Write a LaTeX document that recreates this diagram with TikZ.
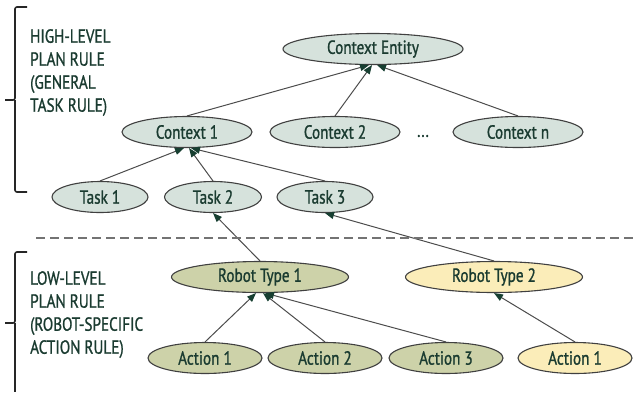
\documentclass[tikz,border=0pt]{standalone}
\usepackage{fontspec}
\setmainfont{PT Sans}[FakeStretch=0.8,FakeBold=1]
\usetikzlibrary{shapes.geometric,arrows.meta}
\definecolor{txtgreen}{HTML}{1A3B30}
\definecolor{tipgreen}{HTML}{173F31}
\definecolor{ctxfill}{HTML}{D6E2DC}
\definecolor{robfill}{HTML}{CDD2A9}
\definecolor{yelfill}{HTML}{FBEDB9}
\tikzset{
  ent/.style={ellipse,draw=black!75,line width=1.1pt,inner sep=0pt,
    minimum height=31pt,text=txtgreen,font=\fontsize{19}{19}\selectfont},
  ctx/.style={ent,fill=ctxfill},
  rob/.style={ent,fill=robfill},
  yel/.style={ent,fill=yelfill},
  link/.style={draw=black!70,line width=1pt,
    -{Triangle[length=9pt,width=7pt,fill=tipgreen,color=tipgreen]}},
  lbl/.style={anchor=north west,align=left,text=txtgreen,inner sep=0pt,
    font=\fontsize{19}{23}\selectfont},
  brace/.style={draw=black!85,line width=1.6pt,rounded corners=2pt}
}
\begin{document}
\begin{tikzpicture}[x=1pt,y=-1pt]
  \useasboundingbox (0,0) rectangle (637,392);
  \node[ctx,minimum width=180pt] (ce) at (373,49) {Context Entity};
  \node[ctx,minimum width=130pt] (c1) at (187,132) {Context 1};
  \node[ctx,minimum width=130pt] (c2) at (335,132) {Context 2};
  \node[text=txtgreen,font=\fontsize{19}{19}\selectfont] (dots) at (423,136) {...};
  \node[ctx,minimum width=130pt] (cn) at (518,132) {Context n};
  \node[ctx,minimum width=96pt] (t1) at (100,197) {Task 1};
  \node[ctx,minimum width=97pt] (t2) at (213,197) {Task 2};
  \node[ctx,minimum width=96pt] (t3) at (325,197) {Task 3};
  \node[rob,minimum width=177pt] (r1) at (260,277) {Robot Type 1};
  \node[yel,minimum width=177pt] (r2) at (494,277) {Robot Type 2};
  \node[rob,minimum width=114pt] (a1) at (205,358) {Action 1};
  \node[rob,minimum width=114pt] (a2) at (325,358) {Action 2};
  \node[rob,minimum width=114pt] (a3) at (446,358) {Action 3};
  \node[yel,minimum width=114pt] (b1) at (575,358) {Action 1};

  \draw[link] (c1.north) -- ([xshift=-4pt]ce.south);
  \draw[link] (c2.north) -- ([xshift=-1pt]ce.south);
  \draw[link] (cn.north) -- ([xshift=4pt]ce.south);
  \draw[link] (t1.north) -- ([xshift=-3pt]c1.south);
  \draw[link] (t2.north) -- ([xshift=2pt]c1.south);
  \draw[link] (t3.north) -- ([xshift=4pt]c1.south);
  \draw[link] (r1.north) -- (t2.south);
  \draw[link] (r2.north) -- (t3.south);
  \draw[link] (a1.north) -- ([xshift=-4pt]r1.south);
  \draw[link] (a2.north) -- ([xshift=3pt]r1.south);
  \draw[link] (a3.north) -- ([xshift=5pt]r1.south);
  \draw[link] (b1.north) -- (r2.south);

  \draw[black!55,line width=1.6pt,dash pattern=on 9pt off 5pt] (36,238) -- (637,238);

  \node[lbl] (hl) at (30,29) {HIGH-LEVEL\\PLAN RULE\\(GENERAL\\TASK RULE)};
  \node[lbl] (ll) at (30,271) {LOW-LEVEL\\PLAN RULE\\(ROBOT-SPECIFIC\\ACTION RULE)};

  \draw[brace] (27,7) -- (15,7) -- (15,100) -- (5,100);
  \draw[brace] (15,100) -- (15,192) -- (27,192);
  \draw[brace] (27,252) -- (15,252) -- (15,323) -- (5,323);
  \draw[brace] (15,323) -- (15,392);
\end{tikzpicture}
\end{document}
